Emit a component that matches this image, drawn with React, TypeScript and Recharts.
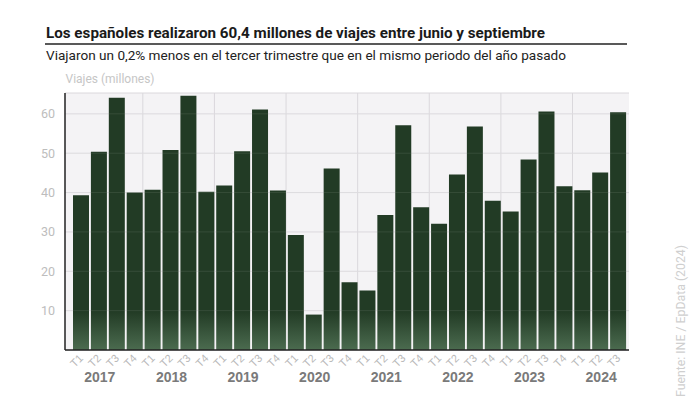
import React from "react";
import {
  BarChart,
  Bar,
  XAxis,
  YAxis,
  CartesianGrid,
  ReferenceLine,
} from "recharts";

// Viajes de residentes en España por trimestre (millones)
const years = ["2017", "2018", "2019", "2020", "2021", "2022", "2023", "2024"];
const quarters = ["T1", "T2", "T3", "T4"];
const viajes = [
  39.3, 50.4, 64.1, 40.0,
  40.7, 50.8, 64.6, 40.2,
  41.8, 50.5, 61.1, 40.5,
  29.2, 9.0, 46.1, 17.2,
  15.1, 34.3, 57.1, 36.3,
  32.1, 44.6, 56.8, 37.9,
  35.2, 48.4, 60.6, 41.6,
  40.6, 45.1, 60.4,
];
const yTicks = [10, 20, 30, 40, 50, 60];

const rows = viajes.map((v, i) => ({
  key: `${years[Math.floor(i / 4)]} ${quarters[i % 4]}`,
  viajes: v,
}));

const W = 690;
const H = 408;
const M = { top: 93, right: 61, bottom: 0, left: 0 };
const Y_W = 65;
const PAD = { left: 7, right: 2 };
const plotW = W - M.left - M.right - Y_W;
const band = (plotW - PAD.left - PAD.right) / rows.length;
const yearLines = years
  .slice(1)
  .map((_, k) => M.left + Y_W + PAD.left + band * 4 * (k + 1) - 0.8);

const SANS = "Roboto, 'Liberation Sans', sans-serif";

function XTick(props: any) {
  const { x, y, payload } = props;
  const [year, q] = String(payload.value).split(" ");
  return (
    <g>
      <text
        transform={`translate(${x + 3},${y + 9}) rotate(-45)`}
        textAnchor="end"
        fontSize={11}
        fontFamily="'Liberation Sans', Arial, sans-serif"
        fill="#b9b9b9"
      >
        {q}
      </text>
      {q === "T2" && (
        <text
          x={x + 1}
          y={y + 32}
          textAnchor="middle"
          fontSize={14}
          fontWeight="bold"
          fontFamily="'Liberation Sans', Arial, sans-serif"
          fill="#7a7a7a"
        >
          {year}
        </text>
      )}
    </g>
  );
}

export default function App() {
  return (
    <div
      style={{
        position: "absolute",
        left: 0,
        top: 0,
        width: W,
        height: H,
        background: "#fff",
      }}
    >
      <BarChart width={W} height={H} data={rows} margin={M} barCategoryGap={1}>
        <defs>
          <linearGradient
            id="barGrad"
            gradientUnits="userSpaceOnUse"
            x1="0"
            y1={M.top}
            x2="0"
            y2={350}
          >
            <stop offset="0" stopColor="#223b25" />
            <stop offset="0.85" stopColor="#223b25" />
            <stop offset="1" stopColor="#4b6b4f" />
          </linearGradient>
        </defs>
        <CartesianGrid
          fill="#f4f3f5"
          stroke="#dad8dc"
          verticalPoints={yearLines}
        />
        <XAxis
          dataKey="key"
          interval={0}
          height={58}
          tickSize={0}
          tickMargin={0}
          padding={PAD}
          axisLine={{ stroke: "#222", strokeWidth: 1.5 }}
          tick={<XTick />}
        />
        <YAxis
          width={Y_W}
          domain={[0, 65.3]}
          ticks={yTicks}
          tickLine={false}
          tickMargin={4}
          axisLine={{ stroke: "#222", strokeWidth: 1.5 }}
          tick={{ fill: "#bdbdbd", fontSize: 12.5, fontFamily: SANS }}
        />
        <Bar
          dataKey="viajes"
          fill="url(#barGrad)"
          isAnimationActive={false}
        />
        {yTicks.map((t) => (
          <ReferenceLine
            key={t}
            y={t}
            stroke="rgba(255,255,255,0.09)"
            strokeWidth={1}
          />
        ))}
      </BarChart>
      <svg
        width={W}
        height={H}
        style={{ position: "absolute", left: 0, top: 0, pointerEvents: "none" }}
      >
        <text
          x={46}
          y={38}
          fontSize={14.5}
          fontWeight="bold"
          fontFamily={SANS}
          fill="#1a1a1a"
          textLength={499}
          lengthAdjust="spacingAndGlyphs"
        >
          Los españoles realizaron 60,4 millones de viajes entre junio y septiembre
        </text>
        <line x1={45} x2={627} y1={44} y2={44} stroke="#222" strokeWidth={1.4} />
        <text
          x={46}
          y={59.5}
          fontSize={13.5}
          fontFamily={SANS}
          fill="#222"
          textLength={520}
          lengthAdjust="spacingAndGlyphs"
        >
          Viajaron un 0,2% menos en el tercer trimestre que en el mismo periodo del año pasado
        </text>
        <text
          x={65.5}
          y={83}
          fontSize={12.5}
          fontFamily={SANS}
          fill="#c6c6c6"
          textLength={89}
          lengthAdjust="spacingAndGlyphs"
        >
          Viajes (millones)
        </text>
        <text
          transform="translate(684.5,397) rotate(-90)"
          fontSize={12}
          fontFamily={SANS}
          fill="#cfcfcf"
          textLength={152}
          lengthAdjust="spacingAndGlyphs"
        >
          Fuente: INE / EpData (2024)
        </text>
      </svg>
    </div>
  );
}
